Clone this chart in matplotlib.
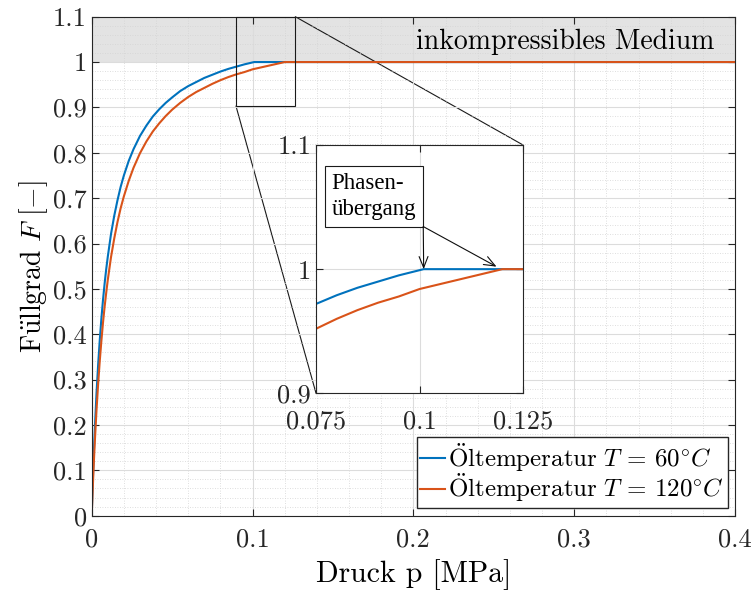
import numpy as np
import matplotlib
matplotlib.use("Agg")
import matplotlib.pyplot as plt
from matplotlib.ticker import MultipleLocator, FixedLocator, FormatStrFormatter
from matplotlib.patches import Rectangle, ConnectionPatch

matplotlib.rcParams.update({
    "font.family": "serif", "font.serif": ["cmr10"],
    "mathtext.fontset": "cm", "axes.formatter.use_mathtext": True,
    "font.size": 19, "axes.linewidth": 0.8,
    "axes.edgecolor": "#262626", "xtick.color": "#262626", "ytick.color": "#262626",
})
BLUE = "#0072BD"; ORANGE = "#D95319"

# Füllgrad über Druck, 60 °C
p_60 = [0.0, 0.0005, 0.001, 0.0015, 0.002, 0.003, 0.004, 0.005, 0.006, 0.007,
        0.008, 0.009, 0.010, 0.012, 0.014, 0.016, 0.018, 0.020, 0.023, 0.026,
        0.030, 0.034, 0.038, 0.042, 0.046, 0.050, 0.055, 0.060, 0.065, 0.070,
        0.075, 0.080, 0.085, 0.090, 0.095, 0.101, 0.4]
F_60 = [0.0, 0.057, 0.108, 0.155, 0.197, 0.271, 0.333, 0.387, 0.434, 0.475,
        0.511, 0.543, 0.571, 0.621, 0.661, 0.695, 0.725, 0.750, 0.782, 0.808,
        0.837, 0.860, 0.880, 0.896, 0.910, 0.922, 0.936, 0.947, 0.956, 0.965,
        0.972, 0.979, 0.985, 0.990, 0.995, 1.0, 1.0]

# Füllgrad über Druck, 120 °C
p_120 = [0.0, 0.0005, 0.001, 0.0015, 0.002, 0.003, 0.004, 0.005, 0.006, 0.007,
         0.008, 0.009, 0.010, 0.012, 0.014, 0.016, 0.018, 0.020, 0.023, 0.026,
         0.030, 0.034, 0.038, 0.042, 0.046, 0.050, 0.055, 0.060, 0.065, 0.070,
         0.075, 0.080, 0.085, 0.090, 0.095, 0.100, 0.105, 0.110, 0.115, 0.120,
         0.4]
F_120 = [0.0, 0.047, 0.091, 0.131, 0.168, 0.234, 0.291, 0.341, 0.385, 0.425,
         0.460, 0.491, 0.520, 0.570, 0.611, 0.647, 0.678, 0.704, 0.738, 0.767,
         0.799, 0.825, 0.847, 0.865, 0.881, 0.895, 0.910, 0.923, 0.934, 0.943,
         0.952, 0.960, 0.967, 0.973, 0.978, 0.984, 0.988, 0.992, 0.996, 1.0,
         1.0]

zoom_box = (0.0897, 0.1266, 0.903, 1.1)   # x0, x1, y0, y1
inset_xlim = (0.075, 0.125)
inset_ylim = (0.9, 1.1)
transitions = [(0.101, 1.0), (0.1186, 1.002)]


def style_axes(a, xpad):
    a.tick_params(which="both", direction="in", top=True, right=True)
    a.tick_params(which="major", length=5, width=0.8)
    a.tick_params(which="minor", length=0)
    a.tick_params(axis="x", pad=xpad)
    for s in a.spines.values():
        s.set_color("#262626")


fig = plt.figure(figsize=(7.53, 5.92), dpi=100)
ax = fig.add_axes([0.1218, 0.1289, 0.8543, 0.8429])

ax.axhspan(1.0, 1.1, color="0.45", alpha=0.2, lw=0, zorder=0.5)
ax.plot(p_60, F_60, color=BLUE, lw=1.5,
        label=r"$\mathrm{\ddot{O}ltemperatur}\ T\,=\,60^{\circ}C$")
ax.plot(p_120, F_120, color=ORANGE, lw=1.5,
        label=r"$\mathrm{\ddot{O}ltemperatur}\ T\,=\,120^{\circ}C$")

ax.set_xlim(0, 0.4)
ax.set_ylim(0, 1.1)
ax.xaxis.set_major_locator(MultipleLocator(0.1))
ax.yaxis.set_major_locator(MultipleLocator(0.1))
ax.xaxis.set_minor_locator(MultipleLocator(0.02))
ax.yaxis.set_minor_locator(MultipleLocator(0.02))
ax.xaxis.set_major_formatter(FormatStrFormatter("%g"))
ax.yaxis.set_major_formatter(FormatStrFormatter("%g"))
ax.grid(True, which="major", color="#dcdcdc", lw=0.8)
ax.grid(True, which="minor", color="#d4d4d4", lw=0.6, ls=(0, (1, 2)))
style_axes(ax, 9)

ax.set_xlabel("Druck p [MPa]", fontsize=21.5, labelpad=5)
ax.set_ylabel(r"$\mathrm{F\ddot{u}llgrad}\ F\ [-]$", fontsize=20, labelpad=2)

ax.text(0.387, 1.044, "inkompressibles Medium", ha="right", va="center",
        fontsize=20)

ax.legend(loc="lower right", fancybox=False, framealpha=1, edgecolor="#262626",
          handlelength=1.0, handletextpad=0.1, borderpad=0.15,
          labelspacing=-0.1, borderaxespad=0.3, fontsize=18)

# zoom rectangle
x0, x1, y0, y1 = zoom_box
ax.add_patch(Rectangle((x0, y0), x1 - x0, y1 - y0, fill=False,
                       ec="0.1", lw=0.8, zorder=4, clip_on=False))

axin = fig.add_axes([0.4197, 0.3356, 0.2749, 0.4195])
axin.plot(p_60, F_60, color=BLUE, lw=1.5)
axin.plot(p_120, F_120, color=ORANGE, lw=1.5)
axin.set_xlim(*inset_xlim)
axin.set_ylim(*inset_ylim)
axin.xaxis.set_major_locator(FixedLocator([0.075, 0.1, 0.125]))
axin.yaxis.set_major_locator(FixedLocator([0.9, 1.0, 1.1]))
axin.xaxis.set_major_formatter(FormatStrFormatter("%g"))
axin.yaxis.set_major_formatter(FormatStrFormatter("%g"))
axin.grid(True, which="major", color="#dcdcdc", lw=0.8)
style_axes(axin, 11.5)

# connection lines from the rectangle to the inset
for xyA, xyB in [((x0, y0), (0, 0)), ((x1, y1), (1, 1))]:
    con = ConnectionPatch(xyA=xyA, coordsA=ax.transData, xyB=xyB,
                          coordsB=axin.transAxes, color="0.1", lw=0.8)
    ax.add_artist(con)

# annotation for the phase transition
box_xy = (0.1009, 1.0343)
axin.text(0.0788, 1.0586, "Phasen-\n\u00fcbergang", family="Liberation Serif",
          fontsize=16.5, ha="left", va="center", linespacing=1.3,
          bbox=dict(boxstyle="square,pad=0.3", fc="white", ec="0.1", lw=0.8))
for xy in transitions:
    axin.annotate("", xy=xy, xytext=box_xy,
                  arrowprops=dict(arrowstyle="->,head_length=0.5,head_width=0.2",
                                  color="0.05", lw=0.8,
                                  shrinkA=0, shrinkB=0, mutation_scale=16))

fig.savefig("out.png", dpi=100)
